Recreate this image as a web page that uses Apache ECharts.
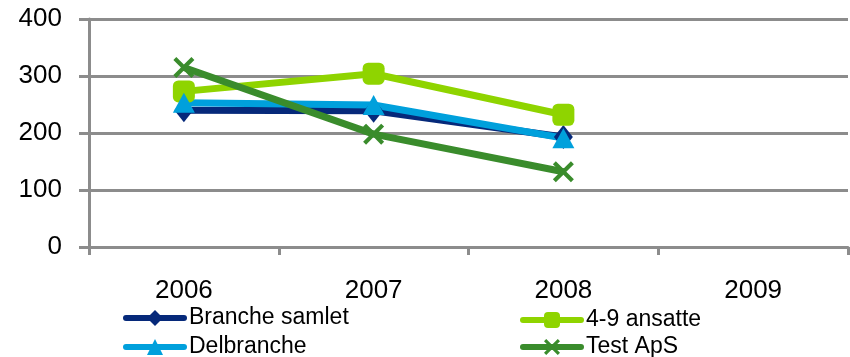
<!DOCTYPE html>
<html>
<head>
<meta charset="utf-8">
<script src="https://cdn.jsdelivr.net/npm/echarts@6/dist/echarts.min.js"></script>
<style>
  html, body { margin: 0; padding: 0; background: #fff; }
  #chart { width: 850px; height: 357px; }
</style>
</head>
<body>
<div id="chart"></div>
<script>
// Years on the category axis
const years = ['2006', '2007', '2008', '2009'];

// Series values per year (2009 not yet reported)
const brancheSamlet = [240, 239, 193, null];
const ansatte49 = [273, 304, 232, null];
const delbranche = [253, 249, 191, null];
const testApS = [315, 198, 132, null];

// Value axis ticks
const yTicks = [0, 100, 200, 300, 400];

const FONT = '"Liberation Sans", Arial, sans-serif';
const GRID_GREY = '#8c8c8c';

// X-shaped marker
const crossPath = 'path://M0,1.4 L1.4,0 L5,3.6 L8.6,0 L10,1.4 L6.4,5 L10,8.6 L8.6,10 L5,6.4 L1.4,10 L0,8.6 L3.6,5 Z';

function lineSeries(name, data, color, symbol, size) {
  return {
    name: name,
    type: 'line',
    data: data,
    symbol: symbol,
    symbolSize: size,
    lineStyle: { color: color, width: 7 },
    itemStyle: { color: color },
    emphasis: { disabled: true },
    animation: false
  };
}

// One legend entry per block, laid out in two columns
function legendItem(name, left, top) {
  return {
    left: left,
    top: top,
    itemWidth: 58,
    itemHeight: 20,
    data: [name],
    lineStyle: { width: 6, cap: 'round' },
    textStyle: { color: '#000', fontFamily: FONT, fontSize: 23, lineHeight: 24 }
  };
}

const chart = echarts.init(document.getElementById('chart'), null, { renderer: 'canvas' });

chart.setOption({
  animation: false,
  grid: { left: 89, right: 2, top: 19, bottom: 110, containLabel: false },
  xAxis: {
    type: 'category',
    data: years,
    boundaryGap: true,
    axisLine: { lineStyle: { color: GRID_GREY, width: 3 } },
    axisTick: { show: true, length: 8, lineStyle: { color: GRID_GREY, width: 3 } },
    axisLabel: { color: '#000', fontFamily: FONT, fontSize: 26, margin: 31 }
  },
  yAxis: {
    type: 'value',
    min: yTicks[0],
    max: yTicks[yTicks.length - 1],
    interval: 100,
    axisLine: { show: true, lineStyle: { color: GRID_GREY, width: 3 } },
    axisTick: { show: true, length: 10, lineStyle: { color: GRID_GREY, width: 3 } },
    splitLine: { show: true, lineStyle: { color: GRID_GREY, width: 3 } },
    axisLabel: { color: '#000', fontFamily: FONT, fontSize: 26, margin: 27 }
  },
  legend: [
    legendItem('Branche samlet', 118, 301),
    legendItem('Delbranche', 118, 330),
    legendItem('4-9 ansatte', 515, 303),
    legendItem('Test ApS', 515, 330)
  ],
  series: [
    lineSeries('Branche samlet', brancheSamlet, '#06297a', 'diamond', [19, 24]),
    lineSeries('4-9 ansatte', ansatte49, '#8fd400', 'roundRect', 22),
    lineSeries('Delbranche', delbranche, '#00a0dc', 'triangle', [22, 20]),
    lineSeries('Test ApS', testApS, '#3a8c2c', crossPath, 21)
  ]
});
</script>
</body>
</html>
